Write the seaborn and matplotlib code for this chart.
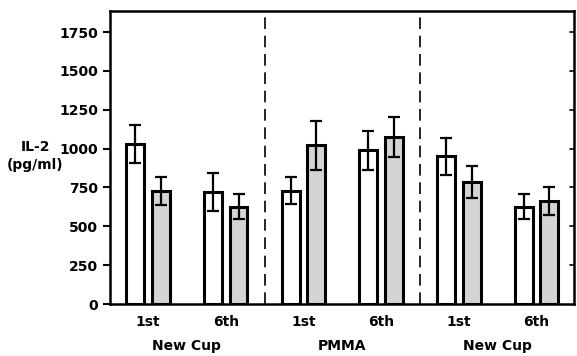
import matplotlib
matplotlib.use("Agg")
import matplotlib.pyplot as plt
import matplotlib.transforms as mtransforms
import pandas as pd
import seaborn as sb

sb.set_style("ticks", {"axes.edgecolor": "black", "text.color": "black",
                       "xtick.color": "black", "ytick.color": "black"})
plt.rcParams['font.family'] = ['DejaVu Sans']

# values
groups = ["New Cup", "PMMA", "New Cup"]
sessions = ["1st", "6th"]
open_vals = [1030, 720, 730, 990, 950, 625]
open_err = [120, 120, 85, 125, 118, 80]
shaded_vals = [730, 625, 1020, 1075, 785, 660]
shaded_err = [90, 80, 155, 130, 105, 90]
yticks = [0, 250, 500, 750, 1000, 1250, 1500, 1750]

# long-form table for seaborn, one slot per group/session
positions = ["p%d" % i for i in range(len(open_vals))]
df = pd.DataFrame({
    "pos": positions * 2,
    "cond": ["open"] * len(open_vals) + ["shaded"] * len(shaded_vals),
    "il2": open_vals + shaded_vals,
})

fig = plt.figure(figsize=(5.77, 3.56), dpi=100)
ax = fig.add_axes([0.1906, 0.146, 0.805, 0.823])

sb.barplot(data=df, x="pos", y="il2", hue="cond", order=positions,
           palette={"open": "white", "shaded": "#d4d4d4"},
           width=0.66, gap=0.3, edgecolor="black", linewidth=2.2,
           legend=False, ax=ax)

# error bars on top of each bar
for cont, errs in zip(ax.containers, [open_err, shaded_err]):
    for bar, e in zip(cont, errs):
        xc = bar.get_x() + bar.get_width() / 2
        ax.errorbar(xc, bar.get_height(), yerr=e, fmt="none", ecolor="black",
                    elinewidth=1.6, capsize=4, capthick=1.6, zorder=5)

# dashed separators between groups
for xs in [1.5, 3.5]:
    ax.axvline(xs, color="black", lw=1.2, dashes=(7, 4))

ax.set_xlim(-0.49, 5.49)
ax.set_ylim(0, 1885)
ax.set_yticks(yticks)
ax.set_yticklabels([str(v) for v in yticks], fontsize=10, fontweight="bold")
ax.set_xticks(range(len(positions)))
ax.set_xticklabels(sessions * len(groups), fontsize=10, fontweight="bold")
ax.tick_params(axis="x", length=0, pad=8)
ax.tick_params(axis="y", direction="out", length=5, width=1.5)
ax.set_xlabel("")
ax.set_ylabel("")
for sp in ax.spines.values():
    sp.set_visible(True)
    sp.set_linewidth(1.8)
    sp.set_color("black")

# inward ticks on the right spine
for yv in yticks[1:]:
    ax.plot([5.49 - 0.06, 5.49], [yv, yv], color="black", lw=1.2, clip_on=False)

trans = mtransforms.blended_transform_factory(ax.transData, ax.transAxes)
for i, g in enumerate(groups):
    ax.text(2 * i + 0.5, -0.143, g, transform=trans, ha="center", va="center",
            fontsize=10, fontweight="bold")

fig.text(35 / 577, 1 - 156 / 356, "IL-2\n(pg/ml)", ha="center", va="center",
         fontsize=10, fontweight="bold", linespacing=1.3)

fig.savefig("out.png", dpi=100)
